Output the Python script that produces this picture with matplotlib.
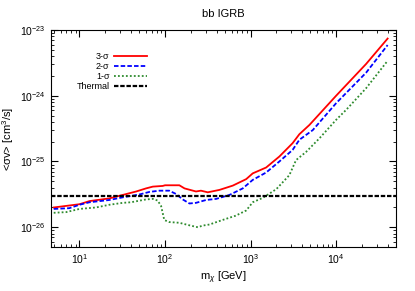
import numpy as np
import matplotlib.pyplot as plt
from matplotlib.ticker import LogLocator, NullFormatter

plt.rcParams['font.family'] = ['Liberation Sans', 'DejaVu Sans']
plt.rcParams['mathtext.fontset'] = 'custom'
plt.rcParams['mathtext.rm'] = 'Liberation Sans'
plt.rcParams['mathtext.it'] = 'Liberation Sans:italic'

# 3-sigma
m3 = [5, 10, 13.1, 22.4, 32, 46, 60, 72, 94, 100, 147, 169, 230, 263, 316, 433,
      620, 890, 1060, 1520, 2170, 3100, 3720, 4880, 10000, 22400, 40000]
sv3 = [2.0e-26, 2.24e-26, 2.5e-26, 2.75e-26, 3.1e-26, 3.5e-26, 3.9e-26, 4.15e-26,
       4.25e-26, 4.35e-26, 4.35e-26, 3.9e-26, 3.5e-26, 3.6e-26, 3.4e-26, 3.7e-26,
       4.3e-26, 5.4e-26, 6.6e-26, 8.1e-26, 1.19e-25, 1.9e-25, 2.6e-25, 3.6e-25,
       1.0e-24, 3.04e-24, 7.4e-24]

# 2-sigma
m2 = [5, 7.6, 10, 13.1, 22.4, 32, 50, 66, 86, 112, 135, 161, 193, 230, 302, 396,
      566, 810, 1060, 1520, 2170, 3100, 3720, 5330, 10000, 22400, 40000]
sv2 = [1.9e-26, 1.95e-26, 2.2e-26, 2.4e-26, 2.6e-26, 2.85e-26, 3.15e-26, 3.45e-26,
       3.6e-26, 3.6e-26, 3.2e-26, 2.65e-26, 2.3e-26, 2.35e-26, 2.6e-26, 2.7e-26,
       3.1e-26, 3.9e-26, 5.25e-26, 6.8e-26, 1.0e-25, 1.5e-25, 2.14e-25, 3.0e-25,
       7.7e-25, 2.24e-24, 5.9e-24]

# 1-sigma
m1 = [5, 7, 10, 15.6, 22.4, 32, 40, 60, 72, 82, 90, 98, 112, 147, 193, 242, 275,
      330, 470, 670, 890, 1060, 1390, 2000, 2840, 3400, 4460, 6380, 10000, 13100,
      22400, 40000]
sv1 = [1.66e-26, 1.7e-26, 1.9e-26, 2.0e-26, 2.2e-26, 2.35e-26, 2.4e-26, 2.65e-26,
       2.7e-26, 2.55e-26, 2.1e-26, 1.29e-26, 1.2e-26, 1.17e-26, 1.07e-26, 1.0e-26,
       1.06e-26, 1.1e-26, 1.29e-26, 1.5e-26, 1.8e-26, 2.4e-26, 2.8e-26, 3.8e-26,
       6.2e-26, 1.05e-25, 1.4e-25, 2.25e-25, 4.3e-25, 6.1e-25, 1.3e-24, 3.4e-24]

thermal = 3.0e-26

xticks = [1e1, 1e2, 1e3, 1e4]
yticks = [1e-26, 1e-25, 1e-24, 1e-23]

fig = plt.figure(figsize=(4.15, 2.91), dpi=100)
ax = fig.add_axes([0.122, 0.151, 0.832, 0.746])

ax.plot(m3, sv3, color="red", lw=1.3, label="3-σ")
ax.plot(m2, sv2, color="blue", lw=1.3, ls=(0, (2.5, 1.2)), label="2-σ")
ax.plot(m1, sv1, color="#2e8b2e", lw=1.3, ls=(0, (1, 1.2)), label="1-σ")
ax.axhline(thermal, color="black", lw=1.6, ls=(0, (2, 0.8)), label="Thermal")

ax.set_xscale("log")
ax.set_yscale("log")
ax.set_xlim(4.6, 5e4)
ax.set_ylim(5e-27, 1e-23)
ax.set_xticks(xticks)
ax.set_yticks(yticks)

ax.xaxis.set_minor_locator(LogLocator(subs=np.arange(2, 10)))
ax.yaxis.set_minor_locator(LogLocator(subs=np.arange(2, 10)))
ax.xaxis.set_minor_formatter(NullFormatter())
ax.yaxis.set_minor_formatter(NullFormatter())
ax.tick_params(which="both", direction="in", top=True, right=True, labelsize=7.5)
ax.tick_params(which="major", length=5)
ax.tick_params(which="minor", length=2.5)

ax.set_title("bb IGRB", fontsize=8, pad=9)
ax.set_xlabel(r"m$_\chi$ [GeV]", fontsize=8, labelpad=3)
ax.set_ylabel(r"<σv> [cm$^3$/s]", fontsize=8, labelpad=3)

ax.legend(loc="upper left", bbox_to_anchor=(0.075, 0.90), frameon=False,
          markerfirst=False, fontsize=6.5, handlelength=3.6, labelspacing=0.12,
          handletextpad=0.5, borderpad=0, borderaxespad=0)

fig.savefig("out.png", dpi=100)
